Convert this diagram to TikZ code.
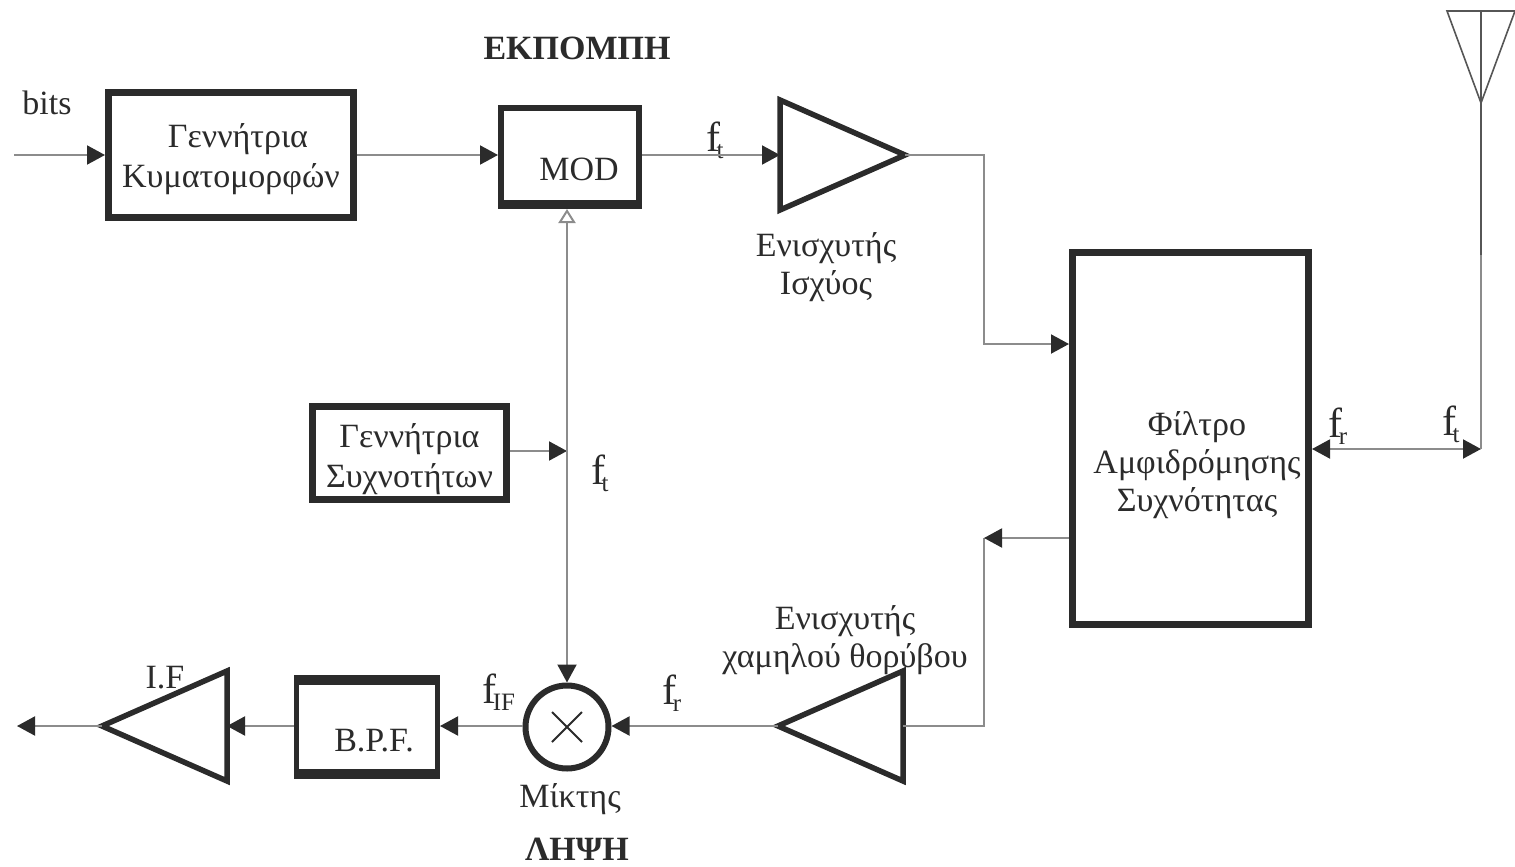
\documentclass[tikz,border=0pt]{standalone}
\usepackage{fontspec}
\setmainfont{Liberation Serif}
\usetikzlibrary{arrows.meta,shapes.geometric}
\definecolor{ink}{gray}{0.17}
\definecolor{wire}{gray}{0.55}
\newcommand{\fsub}[1]{{\fontsize{42}{42}\selectfont f}\kern-4pt\raisebox{-7pt}{\fontsize{25}{25}\selectfont #1}}
\tikzset{
  blockbox/.style={draw=ink,line width=7pt,fill=white,inner sep=0pt,align=center,text=ink,font=\fontsize{34}{40}\selectfont},
  ampbox/.style={draw=ink,line width=5.5pt,fill=white,shape=isosceles triangle,isosceles triangle stretches,inner sep=0pt,outer sep=0pt,minimum width=110pt,minimum height=125pt,line join=miter},
  txt/.style={inner sep=0pt,text=ink,font=\fontsize{34}{38}\selectfont,align=center},
  wirel/.style={draw=wire,line width=2pt},
  sig/.style={wirel,-{Triangle[length=18pt,width=19pt,color=ink]}},
}
\begin{document}
\begin{tikzpicture}[x=1pt,y=-1pt,line cap=butt]
  \useasboundingbox (0,0) rectangle (1515,867);
  % blocks
  \node[blockbox,minimum width=245pt,minimum height=125pt] (WG) at (231,155) {\rule{0pt}{32pt}\hspace*{14pt}Γεννήτρια\\Κυματομορφών};
  \node[blockbox,line width=6pt,minimum width=138pt,minimum height=98pt] (MOD) at (570,157) {};
  \draw[ink,line width=9pt] ([yshift=4.5pt]MOD.south west) -- ([yshift=4.5pt]MOD.south east);
  \node[blockbox,minimum width=194pt,minimum height=93pt] (FG) at (409.5,453) {\rule{0pt}{36pt}Γεννήτρια\\Συχνοτήτων};
  \node[blockbox,minimum width=236pt,minimum height=372pt] (FLT) at (1190.5,438.5) {};
  \node[blockbox,line width=5pt,minimum width=141pt,minimum height=99pt] (BPF) at (367,727) {};
  \draw[ink,line width=10pt] ([yshift=-5pt]BPF.north west) -- ([yshift=-5pt]BPF.north east);
  \draw[ink,line width=10pt] ([yshift=5pt]BPF.south west) -- ([yshift=5pt]BPF.south east);
  \node[draw=ink,line width=6pt,fill=white,circle,inner sep=0pt,minimum size=83pt] (MX) at (567,727) {};
  \draw[ink,line width=2pt] (MX.center) ++(-15,-15) -- ++(30,30) ++(0,-30) -- ++(-30,30);
  % amplifiers
  \node[ampbox,anchor=apex] (PA) at (905,155) {};
  \node[ampbox,anchor=apex,shape border rotate=180] (LNA) at (778,726) {};
  \node[ampbox,anchor=apex,shape border rotate=180] (IFA) at (102,726) {};
  % texts
  \node[txt] (MODt) at (579,169) {MOD};
  \node[txt] (BPFt) at (374,741) {B.P.F.};
  \node[txt] (FLTt) at (1197,465) {Φίλτρο\\Αμφιδρόμησης\\Συχνότητας};
  \node[txt] (PAt) at (826,267) {Ενισχυτής\\Ισχύος};
  \node[txt] (LNAt) at (845,640) {Ενισχυτής\\χαμηλού θορύβου};
  \node[txt] (MXt) at (570,799) {Μίκτης};
  \node[txt] (IFt) at (165,678) {I.F};
  \node[txt] (bits) at (47,103) {bits};
  \node[txt,font=\fontsize{34}{38}\selectfont\bfseries] (TX) at (577,48) {ΕΚΠΟΜΠΗ};
  \node[txt,font=\fontsize{34}{38}\selectfont\bfseries] (RX) at (577,849) {ΛΗΨΗ};
  \node[txt] (ft1) at (715,140) {\fsub{t}};
  \node[txt] (ft2) at (600,473) {\fsub{t}};
  \node[txt] (ft3) at (1451,424) {\fsub{t}};
  \node[txt] (fr1) at (1338,426) {\fsub{r}};
  \node[txt] (fr2) at (672,693) {\fsub{r}};
  \node[txt] (fIF) at (499,692) {\fsub{IF}};
  % connectors
  \coordinate (IN) at (14,155);
  \coordinate (OUT) at (17,726);
  \coordinate (JF) at (567,451);
  \coordinate (JL) at (984,538);
  \coordinate (ANT) at (1481,449);
  \coordinate (ANTm) at (1481,255);
  \coordinate (ANTb) at (1481,103);
  \coordinate (ANTt) at (1481,11);
  \draw[sig] (IN) -- (WG.west);
  \draw[sig] (WG.east) -- (MOD.west |- WG.east);
  \draw[sig] (MOD.east |- PA.lower side) -- (PA.lower side);
  \draw[sig] (PA.apex) -| (984,344) -- (FLT.west |- 984,344);
  \draw[wirel] (LNA.lower side) -| (JL);
  \draw[sig] (FLT.west |- JL) -- (JL);
  \draw[sig] (FG.east |- JF) -- (JF);
  \draw[sig] (JF) -- (MX.north);
  \draw[wirel,-{Triangle[open,length=14pt,width=17pt,color=wire,fill=white]}] (JF) -- (MOD.south -| JF);
  \draw[sig] (LNA.apex) -- (MX.east |- LNA.apex);
  \draw[sig] (MX.west |- IFA.apex) -- (BPF.east |- IFA.apex);
  \draw[sig] (BPF.west |- IFA.apex) -- (IFA.lower side);
  \draw[sig] (IFA.apex) -- (OUT);
  \draw[sig,{Triangle[length=18pt,width=19pt,color=ink]}-{Triangle[length=18pt,width=19pt,color=ink]}] (FLT.east |- ANT) -- (ANT);
  \draw[wirel] (ANT) -- (ANTm);
  % antenna
  \draw[ink!80,line width=1.6pt] (ANTm) -- (ANTt);
  \draw[ink!80,line width=1.6pt] (1447,11) -- (1515,11) -- (ANTb) -- cycle;
\end{tikzpicture}
\end{document}
